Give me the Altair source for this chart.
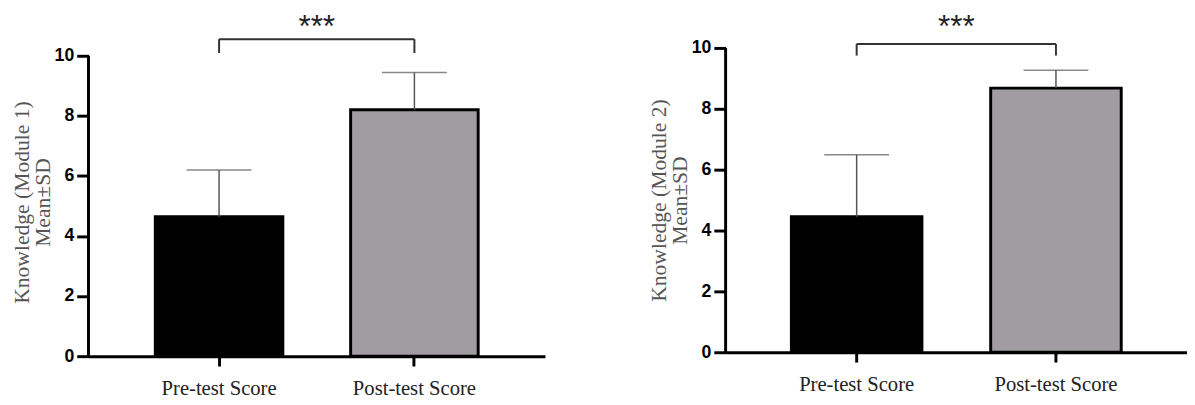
import altair as alt
import pandas as pd

categories = ["Pre-test Score", "Post-test Score"]
bar_colors = ["#000000", "#a09ca1"]

m1_titles = ["Knowledge (Module 1)", "Mean±SD"]
m1_mean = [4.64, 8.20]
m1_sd = [1.56, 1.24]
m1_bracket = [10.55]
m1_bracket_drop = [10.09]
m1_star_y = [11.04]

m2_titles = ["Knowledge (Module 2)", "Mean±SD"]
m2_mean = [4.45, 8.68]
m2_sd = [2.04, 0.59]
m2_bracket = [10.13]
m2_bracket_drop = [9.75]
m2_star_y = [10.77]

sig_label = ["***"]
y_ticks = [0, 2, 4, 6, 8, 10]
axis_span = [0, 10]


def panel(titles, means, sds, br_top, br_drop, star_y, y_max, width, height, p_inner, p_outer):
    df = pd.DataFrame({
        "cat": categories,
        "mean": means,
        "top": [m + s for m, s in zip(means, sds)],
    })
    xenc = alt.X("cat:N", sort=categories,
                 scale=alt.Scale(domain=categories, paddingInner=p_inner, paddingOuter=p_outer),
                 axis=alt.Axis(title=None, labelAngle=0, tickSize=10, labelPadding=12,
                               labelFont="Liberation Serif", labelFontSize=21,
                               labelColor="#222222", domainWidth=3, tickWidth=3,
                               domainColor="black", tickColor="black"))
    yscale = alt.Scale(domain=[0, y_max], nice=False)
    bars = alt.Chart(df).mark_bar(stroke="black", strokeWidth=3).encode(
        x=xenc,
        y=alt.Y("mean:Q", scale=yscale,
                axis=alt.Axis(values=y_ticks, title=titles, grid=False, domain=False,
                              tickSize=12, tickWidth=3, tickColor="black",
                              labelFont="Liberation Sans", labelFontWeight="bold",
                              labelFontSize=18, labelColor="black", labelPadding=3,
                              titleFont="Liberation Serif", titleFontSize=22,
                              titleFontWeight="normal", titleColor="#555555",
                              titlePadding=0, titleLineHeight=21)),
        fill=alt.Fill("cat:N", scale=alt.Scale(domain=categories, range=bar_colors), legend=None),
    )
    adf = pd.DataFrame({"y0": [axis_span[0]], "y1": [axis_span[1]]})
    yline = alt.Chart(adf).mark_rule(color="black", strokeWidth=3).encode(
        x=alt.value(0), y=alt.Y("y0:Q"), y2="y1:Q")
    err = alt.Chart(df).mark_rule(color="#555555", strokeWidth=1.5).encode(
        x=alt.X("cat:N", sort=categories),
        y=alt.Y("mean:Q"),
        y2="top:Q",
    )
    cap = alt.Chart(df).mark_tick(color="#555555", thickness=1.5, size=66).encode(
        x=alt.X("cat:N", sort=categories),
        y=alt.Y("top:Q"),
    )
    bdf = pd.DataFrame({"a": [categories[0]], "b": [categories[1]], "yt": br_top})
    hline = alt.Chart(bdf).mark_rule(color="#333333", strokeWidth=2).encode(
        x=alt.X("a:N", sort=categories), x2="b:N", y=alt.Y("yt:Q"))
    ddf = pd.DataFrame({"cat": categories, "yt": br_top * 2, "yb": br_drop * 2})
    drops = alt.Chart(ddf).mark_rule(color="#333333", strokeWidth=2).encode(
        x=alt.X("cat:N", sort=categories), y=alt.Y("yt:Q"), y2="yb:Q")
    step = width / (2 - p_inner + 2 * p_outer)
    sdf = pd.DataFrame({"a": [categories[0]], "ys": star_y, "t": sig_label})
    stars = alt.Chart(sdf).mark_text(fontSize=32, font="Liberation Sans", baseline="alphabetic",
                                     dy=13, dx=step / 2, color="#222222").encode(
        x=alt.X("a:N", sort=categories),
        y=alt.Y("ys:Q"),
        text="t:N",
    )
    return alt.layer(bars, yline, err, cap, hline, drops, stars).properties(width=width, height=height)


left = panel(m1_titles, m1_mean, m1_sd, m1_bracket, m1_bracket_drop, m1_star_y, 10.26, 465, 314, 0.347, 0.342)
right = panel(m2_titles, m2_mean, m2_sd, m2_bracket, m2_bracket_drop, m2_star_y, 10.0, 470, 310, 0.345, 0.33)

chart = alt.hconcat(left, right, spacing=104).properties(
    padding={"left": 2, "top": 0, "right": 0, "bottom": 0}
).configure_view(stroke=None)

chart.save("out.html", embed_options={"renderer": "svg", "actions": False})
